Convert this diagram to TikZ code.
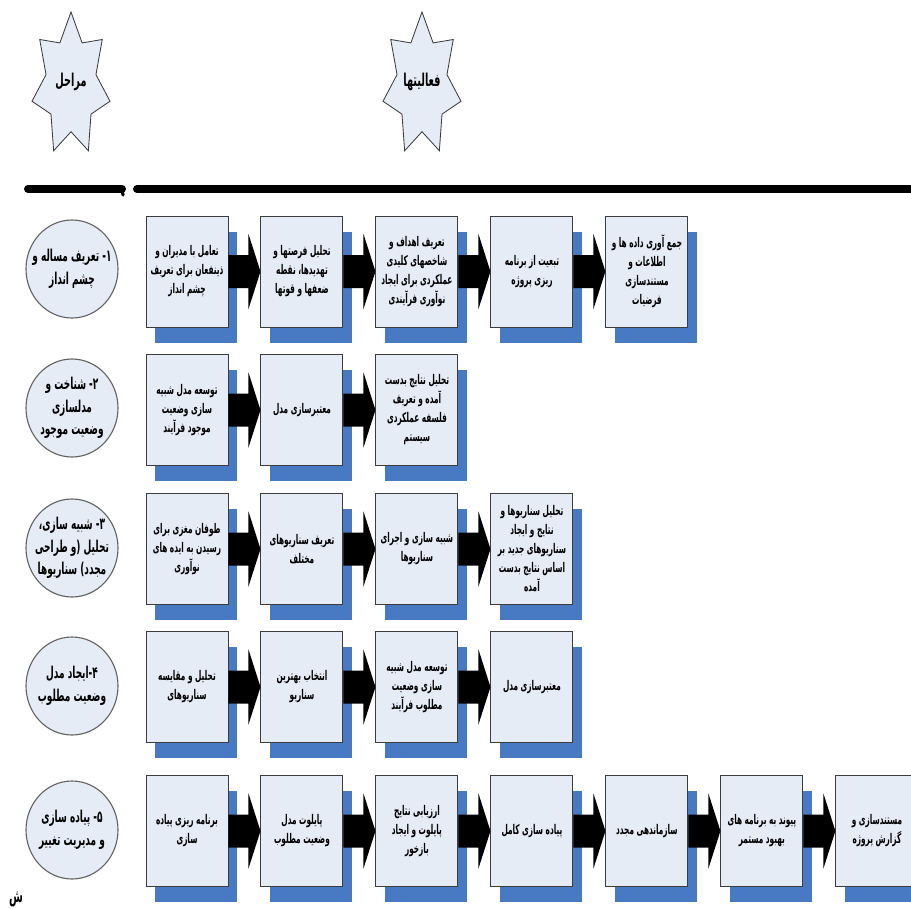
\documentclass[tikz,border=0pt]{standalone}
\usepackage{fontspec}
\usetikzlibrary{positioning,calc,shadows,shapes.geometric}
\TeXXeTstate=1
\newfontfamily\farsi[Script=Arabic,FakeStretch=0.55]{DejaVu Sans}
\definecolor{StageFill}{RGB}{230,236,246}
\definecolor{ShadowBlue}{RGB}{72,122,196}
\definecolor{BoxLine}{RGB}{60,60,60}
\newcommand{\fa}[1]{\beginR#1\endR}
\newcommand{\flowarrow}[2]{%
  \fill[black] ($(#1.east)+(0,-16.5)$) -- ($(#2.west)+(-12,-16.5)$)
    -- ($(#2.west)+(-12,-37.5)$) -- (#2.west) -- ($(#2.west)+(-12,37.5)$)
    -- ($(#2.west)+(-12,16.5)$) -- ($(#1.east)+(0,16.5)$) -- cycle;}

\begin{document}
\begin{tikzpicture}[x=0.25mm, y=-0.25mm,
  starshape/.style={draw=BoxLine, line width=0.6pt, fill=StageFill},
  startext/.style={font=\farsi\bfseries\fontsize{12.6}{14}\selectfont},
  stage/.style={ellipse, draw=BoxLine!80, line width=0.8pt, fill=StageFill,
    minimum width=23mm, minimum height=24.5mm, inner sep=0pt},
  stagetext/.style={align=center, inner sep=0pt,
    font=\farsi\bfseries\fontsize{11.6}{16}\selectfont},
  act/.style={draw=BoxLine, line width=0.7pt, fill=StageFill,
    minimum width=20.5mm, minimum height=27.75mm,
    inner sep=0.5pt, align=center,
    font=\farsi\bfseries\fontsize{9.5}{13.5}\selectfont,
    general shadow={fill=ShadowBlue, shadow xshift=2.2mm, shadow yshift=-3.9mm}},
  bar/.style={line width=2mm, line cap=round}]

\useasboundingbox (0,0) rectangle (911,909);
\clip (0,0) rectangle (911,909);

% Header stars
\foreach \cx in {71, 422} {
  \draw[starshape] plot[samples at={0,...,13}, variable=\k]
    ({\cx + 40*(1-0.36*mod(\k,2))*cos(90+\k*360/14)},
     {85 - 73*(1-0.36*mod(\k,2))*sin(90+\k*360/14)}) -- cycle;
}
\node[startext] (lblstages) at (71,82) {\beginR مراحل\endR};
\node[startext] (lblacts) at (422,82) {\beginR فعالیتها\endR};

% Header bars
\draw[bar] (28,189) -- (122,189);
\draw[line width=0.8mm, line cap=round] (122,189) -- (123,195);
\draw[bar] (137,189) -- (930,189);

% Stages
\node[stage, label={[stagetext]center:{\beginR ۱- تعریف مساله و\endR\\\beginR چشم انداز\endR}}] (s1) at (72,269) {};
\node[stage, label={[stagetext]center:{\beginR ۲- شناخت و\endR\\\beginR مدلسازی\endR\\\beginR وضعیت موجود\endR}}] (s2) at (72,408) {};
\node[stage, label={[stagetext]center:{\beginR ۳- شبیه سازی،\endR\\\beginR تحلیل (و طراحی\endR\\\beginR مجدد) سناریوها\endR}}] (s3) at (72,548) {};
\node[stage, label={[stagetext]center:{\beginR ۴-ایجاد مدل\endR\\\beginR وضعیت مطلوب\endR}}] (s4) at (72,686) {};
\node[stage, label={[stagetext]center:{\beginR ۵- پیاده سازی\endR\\\beginR و مدیریت تغییر\endR}}] (s5) at (72,830) {};

% Row 1
\node[act] (a11) at (187,271.5) {\fa{تعامل با مدیران و}\\\fa{ذینفعان برای تعریف}\\\fa{چشم انداز}};
\node[act, right=8mm of a11] (a12) {\fa{تحلیل فرصتها و}\\\fa{تهدیدها، نقطه}\\\fa{ضعفها و قوتها}};
\node[act, right=8mm of a12] (a13) {\fa{تعریف اهداف و}\\\fa{شاخصهای کلیدی}\\\fa{عملکردی برای ایجاد}\\\fa{نوآوری فرآیندی}};
\node[act, right=8mm of a13] (a14) {\fa{تبعیت از برنامه}\\\fa{ریزی پروژه}};
\node[act, right=8mm of a14] (a15) {\fa{جمع آوری داده ها و}\\\fa{اطلاعات و}\\\fa{مستندسازی}\\\fa{فرضیات}};

% Row 2
\node[act] (a21) at (187,410) {\fa{توسعه مدل شبیه}\\\fa{سازی وضعیت}\\\fa{موجود فرآیند}};
\node[act, right=8mm of a21] (a22) {\fa{معتبرسازی مدل}};
\node[act, right=8mm of a22] (a23) {\fa{تحلیل نتایج بدست}\\\fa{آمده و تعریف}\\\fa{فلسفه عملکردی}\\\fa{سیستم}};

% Row 3
\node[act] (a31) at (187,549) {\fa{طوفان مغزی برای}\\\fa{رسیدن به ایده های}\\\fa{نوآوری}};
\node[act, right=8mm of a31] (a32) {\fa{تعریف سناریوهای}\\\fa{مختلف}};
\node[act, right=8mm of a32] (a33) {\fa{شبیه سازی و اجرای}\\\fa{سناریوها}};
\node[act, right=8mm of a33] (a34) {\fa{تحلیل سناریوها و}\\\fa{نتایج و ایجاد}\\\fa{سناریوهای جدید بر}\\\fa{اساس نتایج بدست}\\\fa{آمده}};

% Row 4
\node[act] (a41) at (187,687) {\fa{تحلیل و مقایسه}\\\fa{سناریوهای}};
\node[act, right=8mm of a41] (a42) {\fa{انتخاب بهترین}\\\fa{سناریو}};
\node[act, right=8mm of a42] (a43) {\fa{توسعه مدل شبیه}\\\fa{سازی وضعیت}\\\fa{مطلوب فرآیند}};
\node[act, right=8mm of a43] (a44) {\fa{معتبرسازی مدل}};

% Row 5
\node[act] (a51) at (187,831) {\fa{برنامه ریزی پیاده}\\\fa{سازی}};
\node[act, right=8mm of a51] (a52) {\fa{پایلوت مدل}\\\fa{وضعیت مطلوب}};
\node[act, right=8mm of a52] (a53) {\fa{ارزیابی نتایج}\\\fa{پایلوت و ایجاد}\\\fa{بازخور}};
\node[act, right=8mm of a53] (a54) {\fa{پیاده سازی کامل}};
\node[act, right=8mm of a54] (a55) {\fa{سازماندهی مجدد}};
\node[act, right=8mm of a55] (a56) {\fa{پیوند به برنامه های}\\\fa{بهبود مستمر}};
\node[act, right=8mm of a56] (a57) {\fa{مستندسازی و}\\\fa{گزارش پروژه}};

% Flow arrows
\foreach \from/\to in {a11/a12, a12/a13, a13/a14, a14/a15,
    a21/a22, a22/a23, a31/a32, a32/a33, a33/a34,
    a41/a42, a42/a43, a43/a44,
    a51/a52, a52/a53, a53/a54, a54/a55, a55/a56, a56/a57}
  \flowarrow{\from}{\to};

\node[font=\farsi\bfseries\fontsize{13}{14}\selectfont] (cutoff) at (16,899) {\fa{ش}};

\end{tikzpicture}
\end{document}
